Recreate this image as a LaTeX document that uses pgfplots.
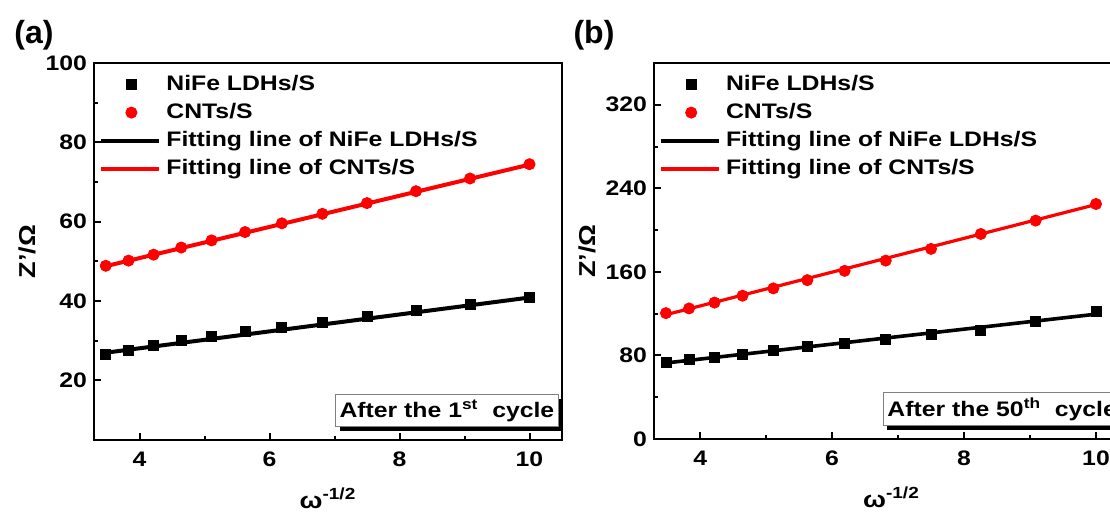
\documentclass[border=0pt]{standalone}
\usepackage{fontspec}
\setmainfont{Liberation Sans}[FakeStretch=1.18]
\newfontfamily\panelfont{Liberation Sans}
\usepackage{pgfplots}
\pgfplotsset{compat=1.18}
\usetikzlibrary{shadows}

% omega^{-1/2} values shared by both panels
\pgfplotstableread{
x       nifeA  cntA   nifeB  cntB
3.481   26.6   48.9   73.7   120.5
3.831   27.7   50.2   75.9   125.0
4.217   28.8   51.7   78.4   130.6
4.642   30.0   53.5   81.3   137.2
5.109   31.0   55.3   84.7   144.2
5.624   32.3   57.4   88.2   152.1
6.190   33.5   59.6   92.0   161.0
6.813   34.7   62.0   95.2   170.8
7.499   36.1   64.7   99.9   182.0
8.254   37.6   67.7   103.7  196.3
9.085   39.2   70.9   112.3  209.1
10.000  41.0   74.5   122.4  225.0
}\eisdata

\newcommand{\lblfont}{\fontsize{10.5bp}{12bp}\selectfont\bfseries}
\newcommand{\axlblfont}{\fontsize{11.5bp}{13bp}\selectfont\bfseries}

\tikzset{
  cyclebox/.style={draw=gray, line width=0.5bp, fill=white, inner xsep=2bp, inner ysep=2.5bp,
    font=\lblfont, general shadow={fill=black, shadow xshift=2bp, shadow yshift=-2bp}},
}

\pgfplotsset{
  eis/.style={
    scale only axis,
    anchor=south west,
    xmin=3.3, xmax=10.5,
    xtick={4,6,8,10},
    minor x tick num=1,
    minor y tick num=1,
    tick align=inside,
    xtick pos=bottom, ytick pos=left,
    major tick length=3.4bp, minor tick length=1.8bp,
    every tick/.style={black, line width=1bp},
    axis line style={line width=1.3bp},
    /pgf/number format/assume math mode=true,
    tick label style={font=\lblfont},
    xticklabel style={yshift=-2.5bp},
    xlabel={ω\textsuperscript{-1/2}},
    ylabel={Z'/Ω},
    every axis x label/.style={at={(rel axis cs:0.5,0)}, anchor=base, yshift=-34bp,
      font=\axlblfont},
    every axis y label/.style={at={([xshift=-33.5bp]rel axis cs:0,0.5)}, rotate=90,
      anchor=center, font=\axlblfont},
    reverse legend,
    legend cell align=left,
    legend style={at={(rel axis cs:0,1)}, anchor=north west, xshift=2.5bp, yshift=-4.5bp,
      draw=none, fill=none, font=\lblfont, row sep=2.1bp, inner sep=0pt,
      nodes={inner xsep=2.5bp, inner ysep=1bp, text height=7.8bp, text depth=2.2bp}},
    legend image code/.code={\draw[mark repeat=2,mark phase=2,#1]
      plot coordinates {(0bp,0bp) (15bp,0bp) (29bp,0bp)};},
    sq/.style={only marks, mark=square*, mark size=2.5bp, black},
    ci/.style={only marks, mark=*, mark size=2.8bp, red},
  },
}

\begin{document}
\begin{tikzpicture}
\path[use as bounding box] (0,0) rectangle (555bp,256.5bp);

% (a) after the first cycle
\begin{axis}[eis, at={(47bp,36.5bp)}, width=234bp, height=188.5bp,
  ymin=5, ymax=100, ytick={20,40,60,80,100}]
  \addplot[red, line width=2bp] coordinates {(3.481,48.8) (10,74.4)};
  \addlegendentry{Fitting line of CNTs/S}
  \addplot[black, line width=2bp] coordinates {(3.481,27.0) (10,40.9)};
  \addlegendentry{Fitting line of NiFe LDHs/S}
  \addplot[ci] table[x=x, y=cntA] {\eisdata};
  \addlegendentry{CNTs/S}
  \addplot[sq] table[x=x, y=nifeA] {\eisdata};
  \addlegendentry{NiFe LDHs/S}
  \node[cyclebox, anchor=south west] at (rel axis cs:0.515,0.034)
    {After the 1\textsuperscript{st}\ \ cycle};
\end{axis}

% (b) after the 50th cycle
\begin{axis}[eis, at={(327bp,37bp)}, width=237.5bp, height=188bp,
  ymin=0, ymax=360, ytick={0,80,160,240,320}]
  \addplot[red, line width=1.6bp] coordinates {(3.481,119.0) (10,224.5)};
  \addlegendentry{Fitting line of CNTs/S}
  \addplot[black, line width=1.8bp] coordinates {(3.481,72.8) (10,119.5)};
  \addlegendentry{Fitting line of NiFe LDHs/S}
  \addplot[ci] table[x=x, y=cntB] {\eisdata};
  \addlegendentry{CNTs/S}
  \addplot[sq] table[x=x, y=nifeB] {\eisdata};
  \addlegendentry{NiFe LDHs/S}
  \node[cyclebox, anchor=south west] at (rel axis cs:0.482,0.034)
    {After the 50\textsuperscript{th}\ \ cycle};
\end{axis}

\node[font=\fontsize{16bp}{18bp}\selectfont\panelfont\bfseries] at (17bp,239bp) {(a)};
\node[font=\fontsize{16bp}{18bp}\selectfont\panelfont\bfseries] at (297bp,239bp) {(b)};
\end{tikzpicture}
\end{document}
